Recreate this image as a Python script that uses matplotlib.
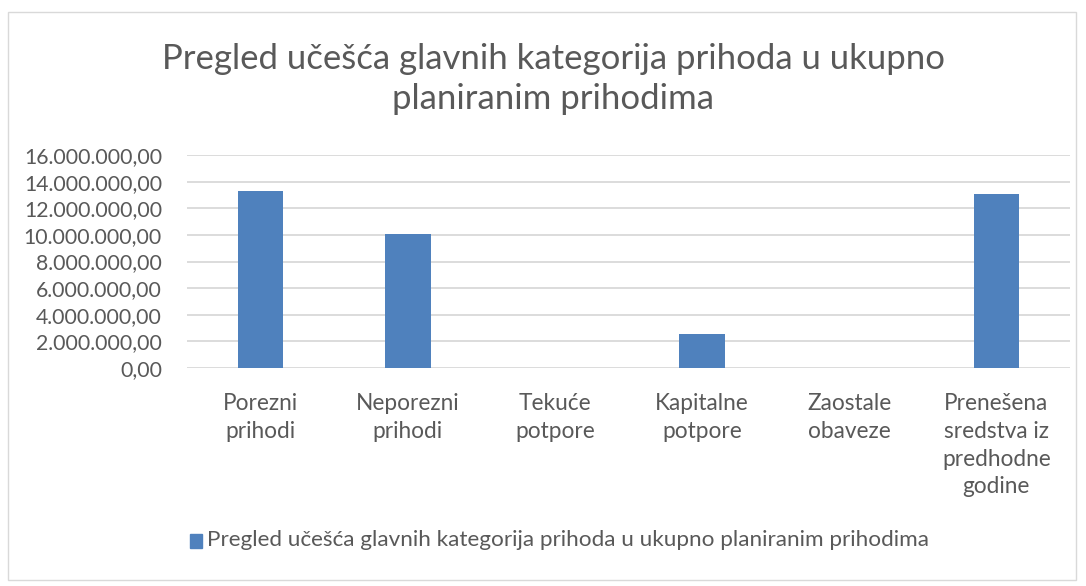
import matplotlib
matplotlib.use("Agg")
import matplotlib.pyplot as plt
from matplotlib.patches import Rectangle
from matplotlib.ticker import FuncFormatter

categories = ["Porezni\nprihodi", "Neporezni\nprihodi", "Tekuće\npotpore",
              "Kapitalne\npotpore", "Zaostale\nobaveze",
              "Prenešena\nsredstva iz\npredhodne\ngodine"]
values = [13300000, 10050000, 0, 2550000, 0, 13070000]
series_name = "Pregled učešća glavnih kategorija prihoda u ukupno planiranim prihodima"
title = "Pregled učešća glavnih kategorija prihoda u ukupno\nplaniranim prihodima"
yticks = list(range(0, 16000001, 2000000))

plt.rcParams['font.family'] = ['Lato', 'DejaVu Sans']
txt = '#595959'
bar_color = '#4f81bd'

fig = plt.figure(figsize=(10.86, 5.86), dpi=100)
fig.patches.append(Rectangle((8/1086, 1-580/586), 1068/1086, 568/586,
                             transform=fig.transFigure, fill=False,
                             edgecolor='#d9d9d9', linewidth=1))
ax = fig.add_axes([187/1086, 1-368/586, (1070-187)/1086, (368-155)/586])
x = list(range(len(categories)))
ax.bar(x, values, width=0.31, color=bar_color, zorder=3)
ax.set_xlim(-0.5, len(categories) - 0.5)
ax.set_ylim(0, 16000000)
ax.set_yticks(yticks)

def fmt(v, pos):
    s = f"{int(v):,}".replace(",", ".")
    return s + ",00"
ax.yaxis.set_major_formatter(FuncFormatter(fmt))
ax.grid(axis='y', color='#d9d9d9', linewidth=1.3, zorder=0)
for s in ax.spines.values():
    s.set_visible(False)
ax.tick_params(axis='y', length=0, colors=txt, labelsize=15.3, pad=18)
ax.tick_params(axis='x', length=0, colors=txt, labelsize=16.3, pad=18)
ax.set_xticks(x)
ax.set_xticklabels(categories, va='top', linespacing=1.4)

fig.text(553/1086, 1-79/586, title, ha='center', va='center', fontsize=25,
         color=txt, linespacing=1.3)

fig.patches.append(Rectangle((190/1086, 1-548/586), 12/1086, 14/586,
                             transform=fig.transFigure, color=bar_color))
fig.text(207/1086, 1-540/586, series_name, ha='left', va='center',
         fontsize=16.2, color=txt)

fig.savefig("out.png", dpi=100)
